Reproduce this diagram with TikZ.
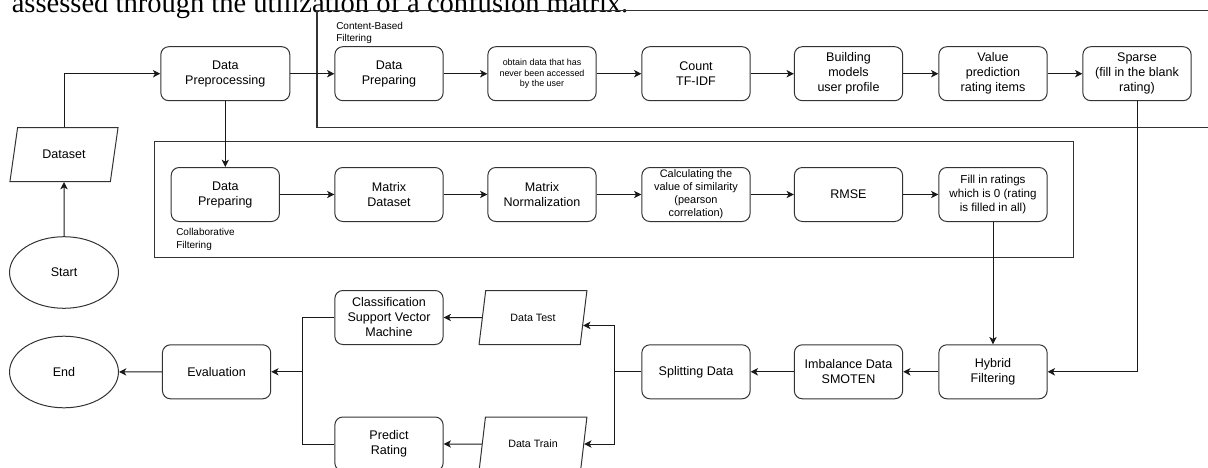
\documentclass[tikz,border=0pt]{standalone}
\usepackage{fontspec}
\setmainfont{Liberation Sans}
\newfontfamily\paperfont{Liberation Serif}
\usepackage{tikz}
\usetikzlibrary{arrows.meta,shapes.geometric,calc,positioning}

\begin{document}
\begin{tikzpicture}[x=0.75pt,y=-0.75pt,-]
  \tikzstyle{proc}=[rectangle, rounded corners=6pt, draw=black!80, line width=0.75pt, minimum width=81.2pt, minimum height=40.5pt, inner sep=1pt, align=center, font=\fontsize{9.4}{11.25}\selectfont]
  \tikzstyle{io}=[trapezium, trapezium left angle=71.6, trapezium right angle=108.4, trapezium stretches=true, draw=black!80, line width=0.75pt, minimum width=81.2pt, minimum height=40.5pt, inner sep=1pt, align=center, font=\fontsize{9.4}{11.25}\selectfont]
  \tikzstyle{term}=[ellipse, draw=black!80, line width=0.75pt, minimum width=81.7pt, minimum height=53.7pt, inner sep=0pt, font=\fontsize{9.4}{11.25}\selectfont]
  \tikzstyle{flow}=[-{Stealth[length=5.5pt,width=5.5pt,inset=1.5pt]}, line width=0.75pt, color=black!90]
  \tikzstyle{link}=[line width=0.75pt, color=black!90]
  \tikzstyle{frame}=[draw=black!80, line width=0.9pt]
  \tikzstyle{grouplabel}=[anchor=west, inner sep=0pt, align=left, font=\fontsize{7.5}{9.5}\selectfont]

  \useasboundingbox (0,0) rectangle (1208,468);
  \node[anchor=base west, inner sep=0pt, font=\paperfont\fontsize{21.4}{24}\selectfont] (caption) at (11.5,12) {assessed through the utilization of a confusion matrix.};

  % filtering groups
  \draw[frame] (317,10.7) rectangle (1215,127.3);
  \draw[frame] (154.6,141.7) rectangle (1073.8,257.3);
  \node[grouplabel] (cblabel) at (336,33) {Content-Based\\Filtering};
  \node[grouplabel] (cflabel) at (176,239.7) {Collaborative\\Filtering};

  % left column
  \node[term] (start) at (64,272.5) {Start};
  \node[io] (dataset) at (64,154.5) {Dataset};
  \node[term] (stop) at (64,372) {End};

  % content-based row
  \node[proc, minimum width=96.75pt] (preproc) at (225.3,73.7) {Data\\Preprocessing};
  \node[proc] (cbprep) at (389,73.7) {Data\\Preparing};
  \node[proc, font=\fontsize{6.7}{7.6}\selectfont] (obtain) at (542,73.7) {obtain data that has\\never been accessed\\by the user};
  \node[proc] (tfidf) at (696,73.7) {Count\\TF-IDF};
  \node[proc] (usermodel) at (848.5,73.7) {Building\\models\\user profile};
  \node[proc] (valpred) at (993,73.7) {Value\\prediction\\rating items};
  \node[proc] (sparse) at (1137,73.7) {Sparse\\(fill in the blank\\rating)};

  % collaborative row
  \node[proc] (cprep) at (225.3,194.5) {Data\\Preparing};
  \node[proc] (mdata) at (389,194.5) {Matrix\\Dataset};
  \node[proc] (mnorm) at (542,194.5) {Matrix\\Normalization};
  \node[proc, font=\fontsize{8.2}{9.75}\selectfont] (simil) at (696,194.5) {Calculating the\\value of similarity\\(pearson\\correlation)};
  \node[proc] (rmse) at (848.5,194.5) {RMSE};
  \node[proc, font=\fontsize{8.7}{10.6}\selectfont] (fillin) at (993,194.5) {Fill in ratings\\which is 0 (rating\\is filled in all)};

  % bottom part
  \node[proc] (hybrid) at (993,371.8) {Hybrid\\Filtering};
  \node[proc] (imbal) at (848.5,371.8) {Imbalance Data\\SMOTEN};
  \node[proc] (split) at (696,371.8) {Splitting Data};
  \node[io, font=\fontsize{8}{9.6}\selectfont] (dtest) at (533,317.5) {Data Test};
  \node[io, font=\fontsize{8}{9.6}\selectfont] (dtrain) at (533,444) {Data Train};
  \node[proc] (classif) at (389,317.5) {Classification\\Support Vector\\Machine};
  \node[proc] (predict) at (389,444) {Predict\\Rating};
  \node[proc] (eval) at (216.6,371.8) {Evaluation};
  \coordinate (fork) at (614.5,371.8);
  \coordinate (merge) at (302.3,371.8);

  \path[flow]
    (start) edge (dataset)
    (preproc) edge (cbprep)
    (cbprep) edge (obtain)
    (obtain) edge (tfidf)
    (tfidf) edge (usermodel)
    (usermodel) edge (valpred)
    (valpred) edge (sparse)
    (preproc) edge (cprep)
    (cprep) edge (mdata)
    (mdata) edge (mnorm)
    (mnorm) edge (simil)
    (simil) edge (rmse)
    (rmse) edge (fillin)
    (fillin) edge (hybrid)
    (hybrid) edge (imbal)
    (imbal) edge (split)
    (dtest) edge (classif)
    (dtrain) edge (predict)
    (merge) edge (eval)
    (eval) edge (stop);
  \draw[flow] (dataset) |- (preproc);
  \draw[flow] (sparse) |- (hybrid);
  \draw[link] (split) -- (fork);
  \draw[flow] (fork) |- (dtest.-9);
  \draw[flow] (fork) |- (dtrain);
  \draw[link] (classif) -| (merge);
  \draw[link] (predict) -| (merge);
\end{tikzpicture}
\end{document}
